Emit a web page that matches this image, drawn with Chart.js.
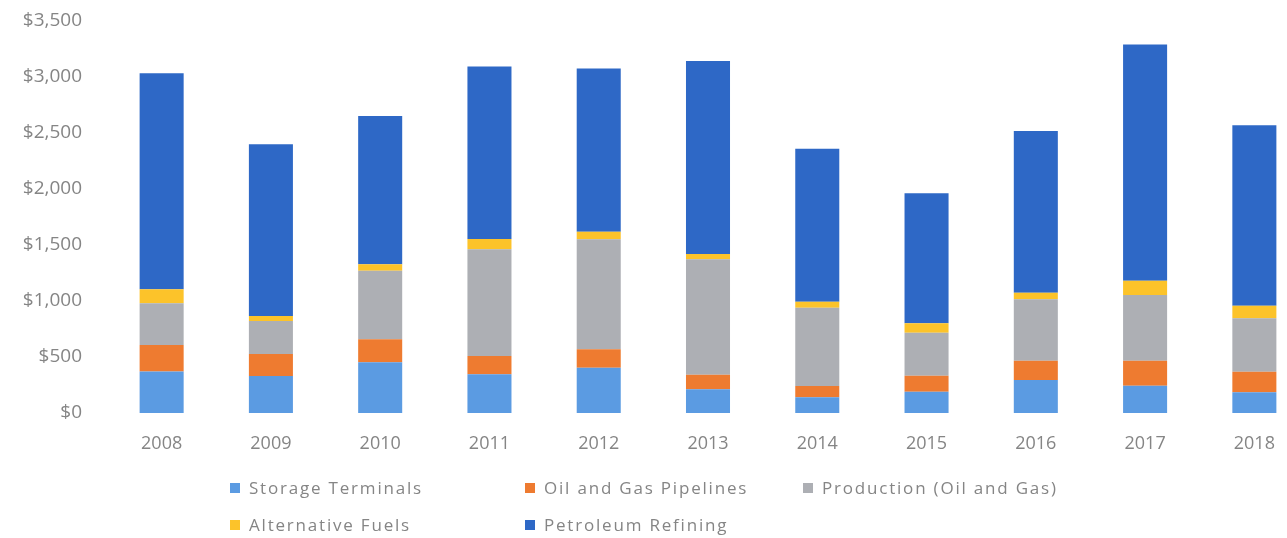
<!DOCTYPE html>
<html>
<head>
<meta charset="utf-8">
<script src="https://cdn.jsdelivr.net/npm/chart.js@4"></script>
<style>
  html, body { margin: 0; padding: 0; background: #fff; overflow: hidden; }
  #wrap { position: absolute; left: 0; top: 0; width: 1309px; height: 538px; }
  #legend { position: absolute; left: 0; top: 0; width: 1287px; height: 538px; pointer-events: none;
            font-family: "Open Sans", sans-serif; font-size: 17px; color: #858585; }
  .item { position: absolute; white-space: nowrap; letter-spacing: 1.8px; }
  .box { display: inline-block; width: 10px; height: 10px; margin-right: 9px; vertical-align: 1px; }
</style>
</head>
<body>
<div id="wrap"><canvas id="chart"></canvas></div>
<div id="legend"></div>
<script>
var years = ["2008", "2009", "2010", "2011", "2012", "2013", "2014", "2015", "2016", "2017", "2018"];

var storageTerminals = [370, 330, 453, 345, 405, 211, 140, 190, 295, 244, 185];
var oilGasPipelines  = [237, 197, 205, 164, 164, 131, 101, 143, 172, 223, 184];
var production       = [373, 294, 613, 953, 982, 1030, 699, 384, 548, 587, 476];
var alternativeFuels = [125, 45, 57, 92, 68, 48, 54, 84, 59, 127, 113];
var petroleumRefining = [1928, 1533, 1324, 1539, 1456, 1723, 1366, 1161, 1444, 2110, 1611];

var seriesNames = ["Storage Terminals", "Oil and Gas Pipelines", "Production (Oil and Gas)", "Alternative Fuels", "Petroleum Refining"];
var seriesColors = ["#5b9be2", "#ee7b30", "#adafb4", "#fcc32a", "#2e68c6"];
var seriesData = [storageTerminals, oilGasPipelines, production, alternativeFuels, petroleumRefining];

var yTicks = [0, 500, 1000, 1500, 2000, 2500, 3000, 3500];

var textColor = "#858585";

var datasets = seriesData.map(function (d, i) {
    return {
        label: seriesNames[i],
        data: d,
        backgroundColor: seriesColors[i],
        borderWidth: 0,
        categoryPercentage: 1,
        barPercentage: 0.403
    };
});

var ctx = document.getElementById("chart").getContext("2d");
var chart = new Chart(ctx, {
    type: "bar",
    data: { labels: years, datasets: datasets },
    options: {
        responsive: true,
        maintainAspectRatio: false,
        animation: false,
        layout: { padding: { top: 21, right: 0, left: 0, bottom: 0 } },
        plugins: {
            legend: { display: false },
            tooltip: { enabled: false }
        },
        scales: {
            x: {
                stacked: true,
                grid: { display: false, drawTicks: false },
                border: { display: false },
                ticks: { color: textColor, font: { family: "Open Sans", size: 18 }, padding: 20, maxRotation: 0 },
                afterFit: function (scale) {
                    scale.height = 125;
                    scale.paddingLeft = 0;
                    scale.paddingRight = 0;
                }
            },
            y: {
                stacked: true,
                min: 0,
                max: 3500,
                afterBuildTicks: function (scale) {
                    scale.ticks = yTicks.map(function (v) { return { value: v }; });
                },
                grid: { display: false, drawTicks: false },
                border: { display: false },
                ticks: {
                    color: textColor,
                    font: { family: "Open Sans", size: 19 },
                    padding: 25,
                    callback: function (v) { return "$" + v.toLocaleString("en-US"); }
                },
                afterFit: function (scale) {
                    scale.width = 107;
                    scale.paddingTop = 0;
                    scale.paddingBottom = 0;
                }
            }
        }
    }
});

// legend laid out like the original (3 columns, second row under the first)
var legendPos = [[230, 488], [525, 488], [803, 488], [230, 525], [525, 525]];
var legend = document.getElementById("legend");
seriesNames.forEach(function (name, i) {
    var el = document.createElement("div");
    el.className = "item";
    el.style.left = legendPos[i][0] + "px";
    el.style.top = (legendPos[i][1] - 12) + "px";
    el.innerHTML = '<span class="box" style="background:' + seriesColors[i] + '"></span>' + name;
    legend.appendChild(el);
});
</script>
</body>
</html>
